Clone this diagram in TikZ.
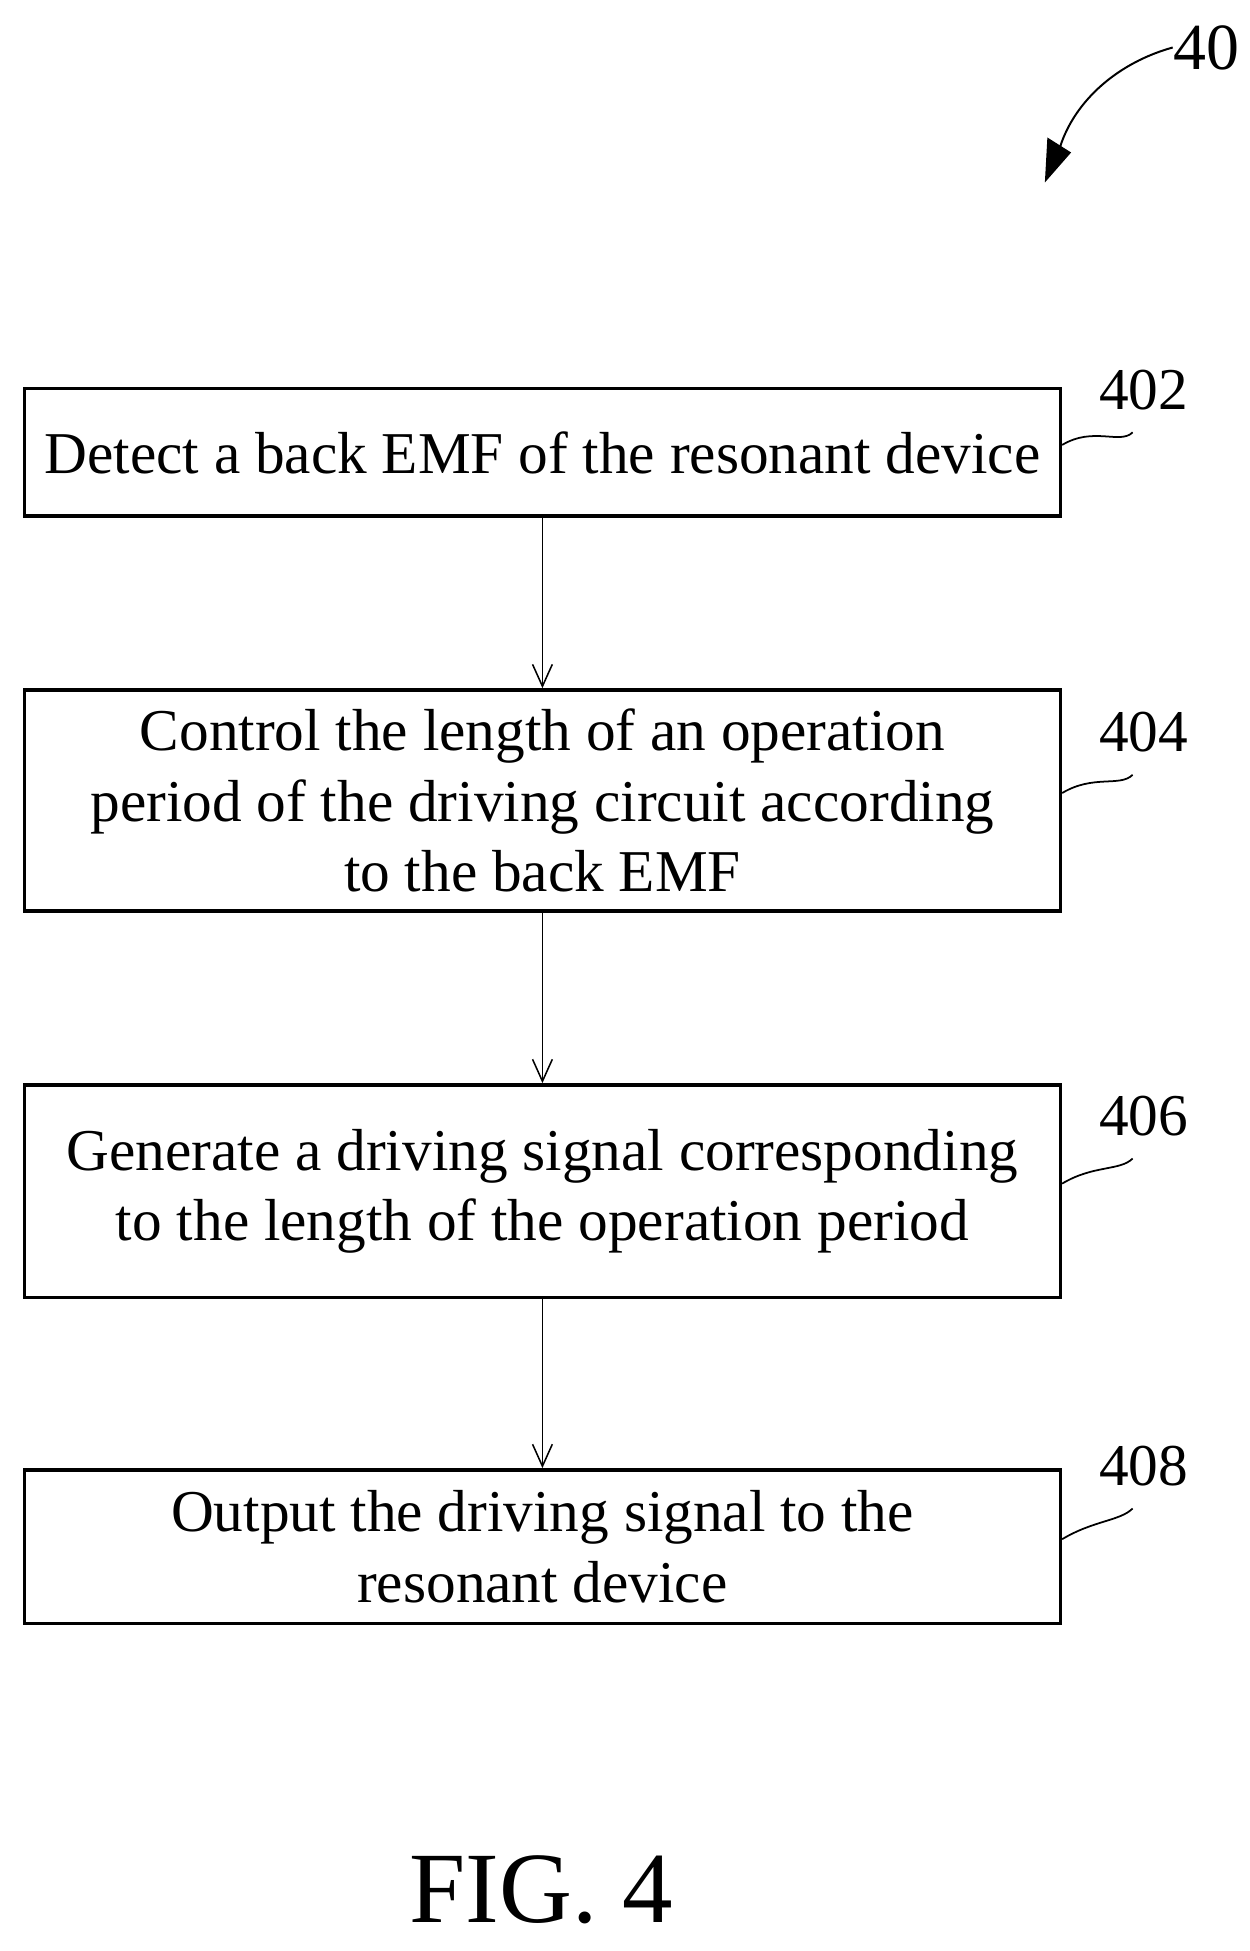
\documentclass[tikz,border=0pt]{standalone}
\usepackage{fontspec}
\setmainfont{Liberation Serif}
\usetikzlibrary{arrows.meta}
\begin{document}
\begin{tikzpicture}[x=0.02cm,y=-0.02cm,
 box/.style={draw,line width=1.6pt,minimum width=16.58cm,align=center,font=\fontsize{27}{32}\selectfont,inner sep=0pt},
 lab/.style={font=\fontsize{27}{30}\selectfont,inner sep=0pt},
 arr/.style={-{Straight Barb[length=10pt,width=9pt]},line width=0.7pt}]
\useasboundingbox (0,0) rectangle (1000,1561);
\node[box,minimum height=2.04cm] (b1) at (434,362) {Detect a back EMF of the resonant device};
\node[box,minimum height=3.54cm] (b2) at (434,640.5) {Control the length of an operation\\period of the driving circuit according\\to the back EMF};
\node[box,minimum height=3.4cm] (b3) at (434,953) {Generate a driving signal corresponding\\to the length of the operation period};
\node[box,minimum height=2.46cm] (b4) at (434,1237.5) {Output the driving signal to the\\resonant device};
\draw[arr] (b1) -- (b2);
\draw[arr] (b2) -- (b3);
\draw[arr] (b3) -- (b4);
\node[lab] (l1) at (915,312) {402};
\node[lab] (l2) at (915,586) {404};
\node[lab] (l3) at (915,893) {406};
\node[lab] (l4) at (915,1173) {408};
\foreach \b/\l in {b1/l1,b2/l2,b3/l3,b4/l4}{
 \draw[line width=0.8pt] (\b.east) ++(0,-6) .. controls +(25,-15) and +(-10,10) .. ([xshift=-5pt,yshift=-10pt]\l.south);
}
\node[lab,font=\fontsize{30}{32}\selectfont] (n40) at (965,38) {40};
\coordinate (tip) at (836,146);
\draw[line width=0.9pt] (n40.west) .. controls (895,50) and (860,80) .. (848,118);
\fill (tip) -- (838,110) -- (857,122) -- cycle;
\node[font=\fontsize{46}{48}\selectfont,inner sep=0pt] (fig) at (433,1512) {FIG. 4};
\end{tikzpicture}
\end{document}
